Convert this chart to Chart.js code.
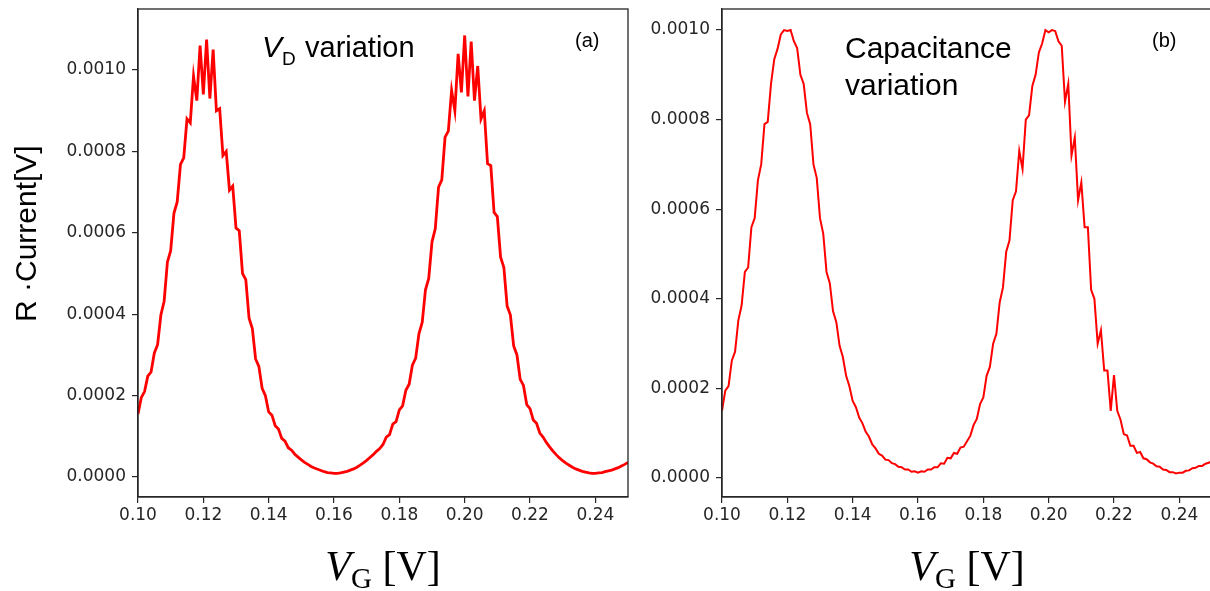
<!DOCTYPE html>
<html>
<head>
<meta charset="utf-8">
<script src="https://cdn.jsdelivr.net/npm/chart.js@4.4.1/dist/chart.umd.min.js"></script>
<style>
html, body { margin: 0; padding: 0; background: #fff; overflow: hidden; width: 1210px; height: 591px; }
canvas { position: absolute; top: 0; }
#graficoVD { left: 0; }
#graficoCap { left: 640px; }
</style>
</head>
<body>
<canvas id="graficoVD" width="640" height="591"></canvas>
<canvas id="graficoCap" width="580" height="591"></canvas>
<script>
// tensão de gate (V)
const vg = [
  0.100, 0.101, 0.102, 0.103, 0.104, 0.105, 0.106, 0.107, 0.108, 0.109,
  0.110, 0.111, 0.112, 0.113, 0.114, 0.115, 0.116, 0.117, 0.118, 0.119,
  0.120, 0.121, 0.122, 0.123, 0.124, 0.125, 0.126, 0.127, 0.128, 0.129,
  0.130, 0.131, 0.132, 0.133, 0.134, 0.135, 0.136, 0.137, 0.138, 0.139,
  0.140, 0.141, 0.142, 0.143, 0.144, 0.145, 0.146, 0.147, 0.148, 0.149,
  0.150, 0.151, 0.152, 0.153, 0.154, 0.155, 0.156, 0.157, 0.158, 0.159,
  0.160, 0.161, 0.162, 0.163, 0.164, 0.165, 0.166, 0.167, 0.168, 0.169,
  0.170, 0.171, 0.172, 0.173, 0.174, 0.175, 0.176, 0.177, 0.178, 0.179,
  0.180, 0.181, 0.182, 0.183, 0.184, 0.185, 0.186, 0.187, 0.188, 0.189,
  0.190, 0.191, 0.192, 0.193, 0.194, 0.195, 0.196, 0.197, 0.198, 0.199,
  0.200, 0.201, 0.202, 0.203, 0.204, 0.205, 0.206, 0.207, 0.208, 0.209,
  0.210, 0.211, 0.212, 0.213, 0.214, 0.215, 0.216, 0.217, 0.218, 0.219,
  0.220, 0.221, 0.222, 0.223, 0.224, 0.225, 0.226, 0.227, 0.228, 0.229,
  0.230, 0.231, 0.232, 0.233, 0.234, 0.235, 0.236, 0.237, 0.238, 0.239,
  0.240, 0.241, 0.242, 0.243, 0.244, 0.245, 0.246, 0.247, 0.248, 0.249,
  0.250
];

// (a) variação de V_D — R·corrente (V)
const correnteVD = [
  155e-6, 195e-6, 210e-6, 248e-6, 258e-6, 305e-6, 325e-6, 398e-6, 432e-6, 528e-6,
  556e-6, 648e-6, 676e-6, 768e-6, 784e-6, 880e-6, 870e-6, 985e-6, 925e-6, 1060e-6,
  940e-6, 1075e-6, 930e-6, 1050e-6, 900e-6, 905e-6, 790e-6, 800e-6, 705e-6, 715e-6,
  612e-6, 605e-6, 500e-6, 485e-6, 390e-6, 365e-6, 290e-6, 272e-6, 218e-6, 200e-6,
  160e-6, 152e-6, 126e-6, 118e-6, 95e-6, 88e-6, 72e-6, 66e-6, 56e-6, 49e-6,
  42e-6, 36e-6, 31e-6, 26e-6, 22e-6, 19e-6, 16e-6, 13e-6, 11e-6, 10e-6,
  9e-6, 9e-6, 10e-6, 12e-6, 14e-6, 17e-6, 20e-6, 24e-6, 29e-6, 35e-6,
  41e-6, 48e-6, 55e-6, 63e-6, 70e-6, 80e-6, 98e-6, 104e-6, 130e-6, 136e-6,
  165e-6, 175e-6, 213e-6, 228e-6, 275e-6, 292e-6, 352e-6, 380e-6, 460e-6, 488e-6,
  578e-6, 610e-6, 712e-6, 730e-6, 835e-6, 850e-6, 950e-6, 900e-6, 1040e-6, 945e-6,
  1085e-6, 935e-6, 1070e-6, 925e-6, 1010e-6, 880e-6, 900e-6, 770e-6, 765e-6, 650e-6,
  640e-6, 540e-6, 515e-6, 420e-6, 398e-6, 322e-6, 300e-6, 240e-6, 225e-6, 178e-6,
  168e-6, 140e-6, 132e-6, 108e-6, 98e-6, 85e-6, 74e-6, 64e-6, 55e-6, 47e-6,
  40e-6, 34e-6, 29e-6, 24e-6, 20e-6, 17e-6, 14e-6, 12e-6, 10e-6, 9e-6,
  9e-6, 10e-6, 11e-6, 13e-6, 15e-6, 17e-6, 20e-6, 23e-6, 27e-6, 31e-6,
  36e-6
];

// (b) variação de capacitância — R·corrente (V)
const correnteCap = [
  150e-6, 195e-6, 205e-6, 262e-6, 282e-6, 352e-6, 385e-6, 460e-6, 470e-6, 560e-6,
  580e-6, 665e-6, 700e-6, 790e-6, 795e-6, 880e-6, 935e-6, 958e-6, 990e-6, 1000e-6,
  998e-6, 1000e-6, 975e-6, 960e-6, 900e-6, 880e-6, 815e-6, 790e-6, 700e-6, 670e-6,
  580e-6, 545e-6, 460e-6, 435e-6, 372e-6, 348e-6, 295e-6, 270e-6, 228e-6, 205e-6,
  172e-6, 158e-6, 135e-6, 122e-6, 103e-6, 92e-6, 75e-6, 66e-6, 54e-6, 50e-6,
  41e-6, 40e-6, 33e-6, 31e-6, 25e-6, 24e-6, 19e-6, 19e-6, 14e-6, 15e-6,
  12e-6, 15e-6, 14e-6, 19e-6, 19e-6, 24e-6, 24e-6, 33e-6, 32e-6, 45e-6,
  44e-6, 56e-6, 54e-6, 68e-6, 70e-6, 82e-6, 94e-6, 118e-6, 132e-6, 165e-6,
  180e-6, 228e-6, 248e-6, 300e-6, 322e-6, 392e-6, 425e-6, 505e-6, 530e-6, 620e-6,
  640e-6, 730e-6, 690e-6, 800e-6, 810e-6, 875e-6, 900e-6, 950e-6, 970e-6, 1000e-6,
  995e-6, 1000e-6, 998e-6, 975e-6, 965e-6, 840e-6, 880e-6, 720e-6, 760e-6, 620e-6,
  660e-6, 560e-6, 560e-6, 420e-6, 400e-6, 300e-6, 330e-6, 240e-6, 240e-6, 150e-6,
  230e-6, 150e-6, 130e-6, 98e-6, 95e-6, 72e-6, 72e-6, 56e-6, 58e-6, 44e-6,
  42e-6, 35e-6, 32e-6, 26e-6, 25e-6, 19e-6, 18e-6, 13e-6, 13e-6, 10e-6,
  12e-6, 12e-6, 16e-6, 17e-6, 22e-6, 23e-6, 27e-6, 27e-6, 32e-6, 34e-6,
  38e-6
];

const ticksX = [0.10, 0.12, 0.14, 0.16, 0.18, 0.20, 0.22, 0.24];
const ticksY = [0.0000, 0.0002, 0.0004, 0.0006, 0.0008, 0.0010];

const corTexto = '#262626';
const fonteTicks = { family: 'DejaVu Sans', size: 17 };

// moldura, títulos dos eixos e anotações
const moldura = {
  id: 'moldura',
  afterDraw(chart, args, opts) {
    const { ctx, chartArea: a } = chart;
    ctx.save();
    ctx.strokeStyle = corTexto;
    ctx.lineWidth = 1.3;
    ctx.strokeRect(a.left, a.top, a.right - a.left, a.bottom - a.top);

    ctx.fillStyle = '#000';
    ctx.textBaseline = 'alphabetic';
    ctx.textAlign = 'left';

    // título do eixo x: V_G [V]
    const partes = [
      { t: 'V', f: 'italic 42px "Liberation Serif"', dy: 0 },
      { t: 'G', f: '29px "Liberation Serif"', dy: 8 },
      { t: ' [V]', f: '42px "Liberation Serif"', dy: 0 }
    ];
    let larg = 0;
    partes.forEach(p => { ctx.font = p.f; p.w = ctx.measureText(p.t).width; larg += p.w; });
    let x = (a.left + a.right) / 2 - larg / 2;
    partes.forEach(p => { ctx.font = p.f; ctx.fillText(p.t, x, 580 + p.dy); x += p.w; });

    // título do eixo y
    if (opts.tituloY) {
      ctx.save();
      ctx.translate(36, 322);
      ctx.rotate(-Math.PI / 2);
      ctx.font = '30px "Liberation Sans"';
      ctx.fillText(opts.tituloY, 0, 0);
      ctx.restore();
    }

    (opts.textos || []).forEach(t => {
      ctx.font = t.f;
      ctx.fillText(t.t, t.x, t.y);
    });
    ctx.restore();
  }
};

const configPainel = (dados, esquerda, direita, largLinha, opts) => ({
  type: 'line',
  data: {
    datasets: [{
      data: vg.map((v, i) => ({ x: v, y: dados[i] })),
      borderColor: '#ff0000',
      borderWidth: largLinha,
      pointRadius: 0,
      tension: 0,
      fill: false
    }]
  },
  options: {
    responsive: false,
    animation: false,
    layout: { padding: { left: 0, right: direita, top: 9, bottom: 0 } },
    plugins: { legend: { display: false }, tooltip: { enabled: false }, moldura: opts },
    scales: {
      x: {
        type: 'linear', min: 0.10, max: 0.25,
        afterBuildTicks: s => { s.ticks = ticksX.map(v => ({ value: v })); },
        afterFit: s => { s.height = 94; s.paddingLeft = 0; s.paddingRight = 0; },
        ticks: { font: fonteTicks, color: corTexto, padding: 2, maxRotation: 0, callback: v => v.toFixed(2) },
        grid: { display: true, drawOnChartArea: false, drawTicks: true, tickLength: 6, color: corTexto, lineWidth: 1.2 },
        border: { display: true, color: corTexto, width: 1.3 }
      },
      y: {
        type: 'linear', min: opts.yMin, max: opts.yMax,
        afterBuildTicks: s => { s.ticks = ticksY.map(v => ({ value: v })); },
        afterFit: s => { s.width = esquerda; s.paddingTop = 0; s.paddingBottom = 0; },
        ticks: { font: fonteTicks, color: corTexto, padding: 6, callback: v => v.toFixed(4) },
        grid: { display: true, drawOnChartArea: false, drawTicks: true, tickLength: 6, color: corTexto, lineWidth: 1.2 },
        border: { display: true, color: corTexto, width: 1.3 }
      }
    }
  },
  plugins: [moldura]
});

new Chart(document.getElementById('graficoVD'), configPainel(correnteVD, 138, 12, 2.8, {
  yMin: -0.0000491, yMax: 0.00115,
  tituloY: 'R ·Current[V]',
  textos: [
    { t: 'V', f: 'italic 30px "Liberation Sans"', x: 262, y: 57 },
    { t: 'D', f: '19px "Liberation Sans"', x: 282, y: 65 },
    { t: 'variation', f: '29px "Liberation Sans"', x: 305, y: 57 },
    { t: '(a)', f: '20px "Liberation Sans"', x: 575, y: 47 }
  ]
}));

new Chart(document.getElementById('graficoCap'), configPainel(correnteCap, 82, 8, 2, {
  yMin: -0.0000424, yMax: 0.001047,
  textos: [
    { t: 'Capacitance', f: '30px "Liberation Sans"', x: 205, y: 58 },
    { t: 'variation', f: '30px "Liberation Sans"', x: 205, y: 95 },
    { t: '(b)', f: '20px "Liberation Sans"', x: 512, y: 47 }
  ]
}));
</script>
</body>
</html>
